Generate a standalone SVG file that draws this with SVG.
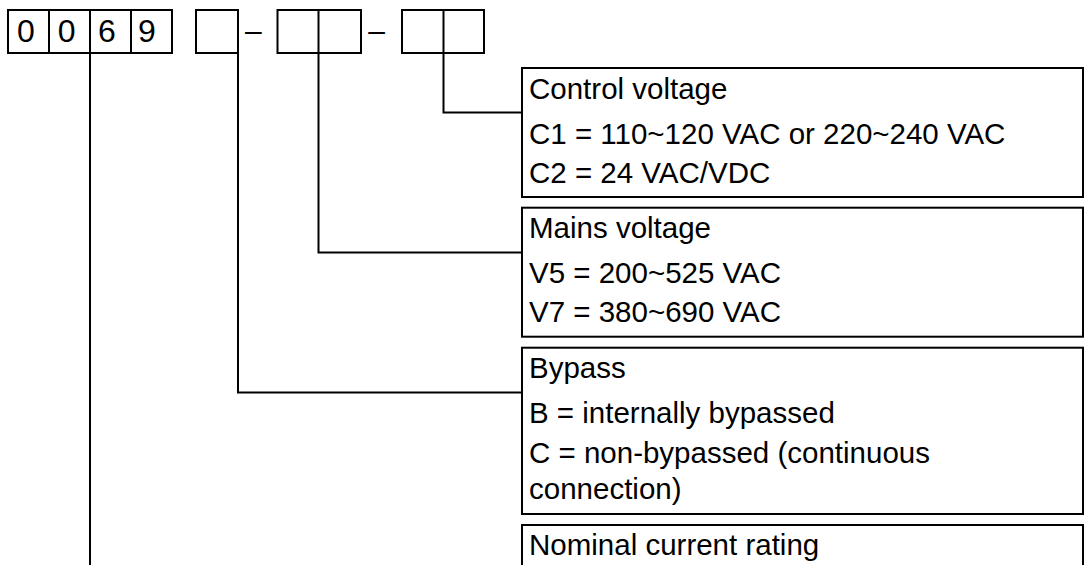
<svg xmlns="http://www.w3.org/2000/svg" width="1086" height="565" viewBox="0 0 1086 565">
<style>
.bx{fill:#fff;stroke:#000;stroke-width:2}
.ln{fill:none;stroke:#000;stroke-width:2}
.t{font-family:"Liberation Sans",Arial,sans-serif;font-size:29.5px;fill:#000}
.d{font-family:"Liberation Sans",Arial,sans-serif;font-size:32px;fill:#000}
.dash{font-family:"Liberation Sans",Arial,sans-serif;font-size:30px;fill:#000}
</style>
<rect width="1086" height="565" fill="#fff"/>
<g id="connectors">
<polyline class="ln" points="443.5,53 443.5,112.5 522,112.5"/>
<polyline class="ln" points="318.5,53 318.5,252.5 522,252.5"/>
<polyline class="ln" points="238,53 238,392.5 522,392.5"/>
<polyline class="ln" points="90,53 90,570"/>
</g>
<g id="code">
<rect class="bx" x="8" y="10" width="164" height="43"/>
<line class="ln" x1="49" y1="10" x2="49" y2="53"/>
<line class="ln" x1="90" y1="10" x2="90" y2="53"/>
<line class="ln" x1="131" y1="10" x2="131" y2="53"/>
<text class="d" x="17" y="41.7">0</text>
<text class="d" x="57.7" y="41.7">0</text>
<text class="d" x="98" y="41.7">6</text>
<text class="d" x="138" y="41.7">9</text>
<rect class="bx" x="196" y="10" width="42" height="43"/>
<text class="dash" x="245" y="41">–</text>
<rect class="bx" x="277.5" y="10" width="83.5" height="43"/>
<line class="ln" x1="318.5" y1="10" x2="318.5" y2="53"/>
<text class="dash" x="368.3" y="41">–</text>
<rect class="bx" x="402" y="10" width="82" height="43"/>
<line class="ln" x1="443.5" y1="10" x2="443.5" y2="53"/>
</g>
<g id="control-voltage">
<rect class="bx" x="522" y="68" width="561" height="129"/>
<text class="t" x="529" y="99">Control voltage</text>
<text class="t" x="529" y="143.5">C1 = 110~120 VAC or 220~240 VAC</text>
<text class="t" x="529" y="182.8">C2 = 24 VAC/VDC</text>
</g>
<g id="mains-voltage">
<rect class="bx" x="522" y="207.7" width="561" height="129"/>
<text class="t" x="529" y="238.3">Mains voltage</text>
<text class="t" x="529" y="283.3">V5 = 200~525 VAC</text>
<text class="t" x="529" y="322.3">V7 = 380~690 VAC</text>
</g>
<g id="bypass">
<rect class="bx" x="522" y="347.7" width="561" height="166.3"/>
<text class="t" x="529" y="377.8">Bypass</text>
<text class="t" x="529" y="423.3">B = internally bypassed</text>
<text class="t" x="529" y="462.7">C = non-bypassed (continuous</text>
<text class="t" x="529" y="499.3">connection)</text>
</g>
<g id="nominal-current">
<rect class="bx" x="522" y="525" width="561" height="80"/>
<text class="t" x="529" y="555">Nominal current rating</text>
</g>
</svg>
